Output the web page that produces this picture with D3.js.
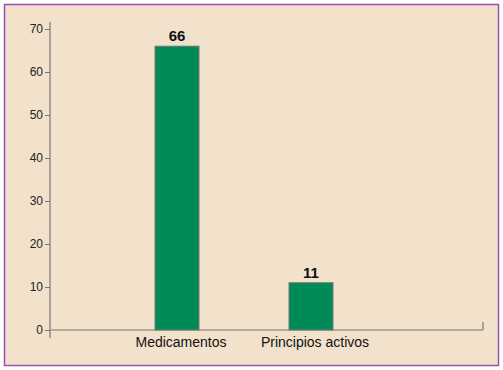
<!DOCTYPE html>
<html><head><meta charset="utf-8">
<script src="https://cdn.jsdelivr.net/npm/d3@7"></script>
<style>body{margin:0;background:#fff}</style>
</head><body>
<script>
const categories = ["Medicamentos", "Principios activos"];
const values = [66, 11];
const yTicks = [0, 10, 20, 30, 40, 50, 60, 70];

const W = 503, H = 370;
const svg = d3.select("body").append("svg").attr("width", W).attr("height", H);
svg.append("rect").attr("x", 4.5).attr("y", 4.5).attr("width", 494).attr("height", 361)
  .attr("fill", "#f2e1cb").attr("stroke", "#9b4fb0").attr("stroke-width", 1.5);

const y = d3.scaleLinear().domain([0, 70]).range([330, 29]);
const x = d3.scaleBand().domain(categories).range([110, 378]);
const barW = 44;
const axisColor = "#777";

// y axis
const ya = svg.append("g").attr("transform", "translate(50,0)")
  .call(d3.axisLeft(y).tickValues(yTicks).tickSize(5).tickPadding(2).tickSizeOuter(0));
ya.select(".domain").remove();
ya.selectAll(".tick line").attr("stroke", axisColor);
ya.selectAll(".tick text").attr("fill", "#222").style("font-family", "Liberation Sans, Arial, sans-serif").style("font-size", "12px");
svg.append("line").attr("x1", 50).attr("x2", 50).attr("y1", 22).attr("y2", 338).attr("stroke", axisColor).attr("stroke-width", 1.2);

// x axis
svg.append("line").attr("x1", 50).attr("x2", 483).attr("y1", 330).attr("y2", 330).attr("stroke", axisColor).attr("stroke-width", 1.2);
svg.append("line").attr("x1", 483).attr("x2", 483).attr("y1", 322).attr("y2", 330).attr("stroke", axisColor).attr("stroke-width", 1.2);

// bars
svg.selectAll("rect.bar").data(categories).enter().append("rect").attr("class", "bar")
  .attr("x", d => x(d) + (x.bandwidth() - barW) / 2)
  .attr("width", barW)
  .attr("y", (d, i) => y(values[i]))
  .attr("height", (d, i) => y(0) - y(values[i]))
  .attr("fill", "#008a58").attr("stroke", "#777").attr("stroke-width", 1);

svg.selectAll("text.val").data(categories).enter().append("text").attr("class", "val")
  .attr("x", d => x(d) + x.bandwidth() / 2)
  .attr("y", (d, i) => y(values[i]) - 5)
  .attr("text-anchor", "middle")
  .style("font-family", "Liberation Sans Narrow, Arial Narrow, sans-serif").style("font-weight", "bold").style("font-size", "15px")
  .attr("fill", "#111")
  .text((d, i) => values[i]);

svg.selectAll("text.cat").data(categories).enter().append("text").attr("class", "cat")
  .attr("x", d => x(d) + x.bandwidth() / 2 + 4)
  .attr("y", 347)
  .attr("text-anchor", "middle")
  .style("font-family", "Liberation Sans Narrow, Arial Narrow, sans-serif").style("font-size", "14px")
  .attr("fill", "#111")
  .text(d => d);
</script>
</body></html>
